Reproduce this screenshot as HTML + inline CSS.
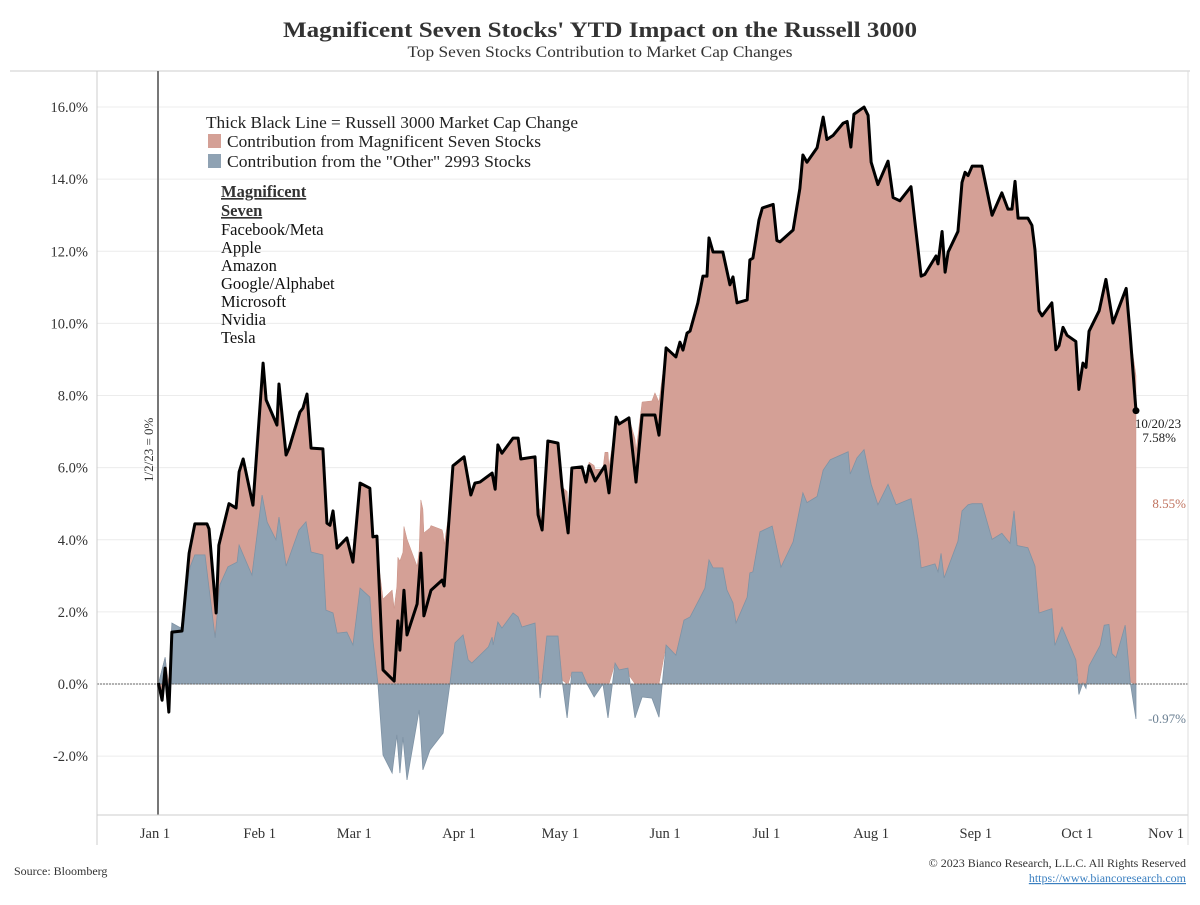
<!DOCTYPE html>
<html><head><meta charset="utf-8"><style>
body{margin:0;background:#fff;font-family:"Liberation Serif",serif;}
svg text{font-family:"Liberation Serif",serif;}
</style></head><body>
<svg id="chart" width="1200" height="900" xmlns="http://www.w3.org/2000/svg">
<text x="600" y="37" text-anchor="middle" font-size="22" font-weight="bold" fill="#333" textLength="634" lengthAdjust="spacingAndGlyphs">Magnificent Seven Stocks' YTD Impact on the Russell 3000</text>
<text x="600" y="57" text-anchor="middle" font-size="16" fill="#333" textLength="385" lengthAdjust="spacingAndGlyphs">Top Seven Stocks Contribution to Market Cap Changes</text>
<line x1="10" y1="71" x2="1190" y2="71" stroke="#ccc"/>
<g id="grid"></g>
<g id="areas"></g>
<line x1="97" y1="684" x2="1188" y2="684" stroke="#666" stroke-dasharray="2,1"/>
<line x1="158" y1="71" x2="158" y2="815" stroke="#777" stroke-width="2"/>
<text transform="translate(153,482) rotate(-90)" font-size="13" text-anchor="start" fill="#333">1/2/23 = 0%</text>
<g id="line"></g>
<line x1="97" y1="71" x2="97" y2="845" stroke="#ccc"/>
<line x1="97" y1="815" x2="1188" y2="815" stroke="#ccc"/>
<line x1="1188" y1="71" x2="1188" y2="845" stroke="#ddd"/>
<g id="yticks"></g><g id="xticks"></g>
<g font-size="16.5" fill="#222">
<text x="206" y="128" textLength="372" lengthAdjust="spacingAndGlyphs">Thick Black Line = Russell 3000 Market Cap Change</text>
<rect x="208" y="134" width="13" height="14" fill="#d4a096"/>
<text x="227" y="147" textLength="314" lengthAdjust="spacingAndGlyphs">Contribution from Magnificent Seven Stocks</text>
<rect x="208" y="154" width="13" height="14" fill="#8fa2b3"/>
<text x="227" y="167" textLength="304" lengthAdjust="spacingAndGlyphs">Contribution from the "Other" 2993 Stocks</text>
</g>
<g font-size="16.5" fill="#111">
<text x="221" y="197" font-weight="bold" text-decoration="underline" fill="#333">Magnificent</text>
<text x="221" y="216" font-weight="bold" text-decoration="underline" fill="#333">Seven</text>
<text x="221" y="235">Facebook/Meta</text>
<text x="221" y="253">Apple</text>
<text x="221" y="271">Amazon</text>
<text x="221" y="289">Google/Alphabet</text>
<text x="221" y="307">Microsoft</text>
<text x="221" y="325">Nvidia</text>
<text x="221" y="343">Tesla</text>
</g>
<text x="1158" y="428" text-anchor="middle" font-size="13" fill="#222">10/20/23</text>
<text x="1176" y="442" text-anchor="end" font-size="13" fill="#222">7.58%</text>
<text x="1186" y="508" text-anchor="end" font-size="13" fill="#c0735f">8.55%</text>
<text x="1186" y="723" text-anchor="end" font-size="13" fill="#6a7f92">-0.97%</text>
<text x="14" y="875" font-size="12" fill="#333">Source: Bloomberg</text>
<text x="1186" y="867" text-anchor="end" font-size="12" fill="#333">© 2023 Bianco Research, L.L.C. All Rights Reserved</text>
<text x="1186" y="882" text-anchor="end" font-size="12" fill="#3a7fc0" text-decoration="underline">https://www.biancoresearch.com</text>
</svg>
<script>
const totalDays=[1,2.1,3,4.1,5,8,10.1,11.8,15.4,16,18.1,18.9,21.9,24,24.9,26.1,29,32,32.9,36.1,36.7,38.8,39.7,42.9,43.8,45,46.2,49.7,50.9,51.8,52.7,53.9,56.8,58.6,60.7,63.6,64.5,65.7,67.5,70.8,71.9,72.5,73.7,74.6,77.6,78.7,79.6,81.7,85,85.6,88.2,91.5,93.5,94.7,96.2,99.8,100.7,101.5,102.7,106,107.5,108.3,112.5,113.4,114.6,116.3,119.3,120.5,122.3,123.4,126.4,127.6,128.5,130.3,133.2,134.4,136.5,137.4,140.3,142.4,144.2,148,149.2,151.3,154.2,155.4,156.3,157.5,158.4,160.7,162.2,163.4,164,165.2,168.1,170.2,171.1,172.3,175.3,176.1,177,178.8,179.8,183,184.1,185,188.9,190.9,191.8,193,196,197.8,198.9,200.7,203.7,204.9,206,206.9,209.9,211.1,212,214,217,218.5,220.5,223.8,225,226.8,227.9,231.2,231.8,233,233.9,234.8,237.7,238.9,239.8,240.7,241.9,244.8,247.8,250.7,252.5,253.7,254.6,255.5,258.4,259.6,260.5,261.7,262.6,265.5,266.7,267.6,268.8,270,272.6,273.5,274.7,275.6,276.5,279.5,281.5,283.6,287.5,288.7,290.4];
const totalVals=[0.03,-0.45,0.44,-0.78,1.44,1.47,3.63,4.44,4.44,4.3,1.97,3.85,5,4.88,5.88,6.24,4.96,8.9,7.88,7.18,8.32,6.35,6.54,7.54,7.65,8.04,6.54,6.52,4.46,4.4,4.8,3.77,4.05,3.38,5.57,5.43,4.08,4.1,0.39,0.08,1.75,0.94,2.6,1.36,2.22,3.63,1.89,2.6,2.88,2.72,6.05,6.3,5.24,5.57,5.6,5.85,5.4,6.63,6.4,6.82,6.82,6.24,6.3,4.69,4.27,6.74,6.68,5.46,4.19,5.99,6.02,5.6,6.05,5.63,6.05,5.3,7.4,7.21,7.38,5.6,7.46,7.46,6.9,9.32,9.07,9.48,9.26,9.73,9.79,10.57,11.31,11.31,12.37,11.98,11.98,11.07,11.29,10.57,10.65,11.76,11.81,12.87,13.2,13.3,12.3,12.26,12.59,13.74,14.67,14.47,14.87,15.72,15.1,15.21,15.55,15.6,14.89,15.8,16,15.77,14.47,13.85,14.5,13.49,13.4,13.79,12.78,11.31,11.36,11.87,11.65,12.55,11.42,11.98,12.55,13.91,14.19,14.1,14.36,14.36,13,13.62,13.17,13.17,13.94,12.92,12.92,12.72,12.04,10.35,10.21,10.57,9.27,9.38,9.89,9.67,9.5,8.17,8.9,8.78,9.78,10.35,11.22,10.01,10.97,9.67,7.58];
const otherDays=[1,3,4.1,5,7.7,10.4,11.8,14.8,17.8,19.2,21.6,24.3,24.9,28.7,31.7,33.2,35.8,36.7,38.8,42.6,44.7,46.2,49.7,50.6,52.7,53.9,56.8,58.6,60.7,63.6,64.5,66,67.5,70.2,71.6,72.5,73.4,74.6,78.2,79.3,81.4,85.3,87.3,88.8,91.2,92.7,93.8,98.7,99.8,100.1,101.5,102.7,106,107.5,108.6,112.5,114,116,119.3,120.5,122,123.4,126.4,127.9,130,132.6,134.1,136.2,137.4,140,142.1,144.2,147.1,149.2,151.3,154.2,156.6,158.4,161.3,162.8,164,165.2,168.1,169.3,171.1,172,175.3,176.1,177,179.1,182.7,185.3,188.9,191.8,193,196,197.8,199.9,205.2,205.8,207.8,209.9,212,214,217,219.4,223.8,225.9,226.8,230.9,231.8,232.7,233.6,237.7,238.9,240.7,241.9,244.8,247.8,250.7,253.1,254.3,255.2,258.4,260.5,261.7,265.5,266.4,268.5,272.6,273.5,274.7,275.6,276.5,279.8,281,282.4,283.3,284.5,287.2,288.7,290.4];
const otherVals=[0,0.74,-0.3,1.69,1.55,3.25,3.58,3.58,1.28,2.75,3.25,3.38,3.85,3.02,5.24,4.49,4,4.63,3.27,4.27,4.5,3.66,3.58,2.05,1.97,1.41,1.44,1.08,2.66,2.41,1.22,0,-1.97,-2.47,-1.41,-2.47,-1.47,-2.66,-0.72,-2.38,-1.83,-1.36,0,1.14,1.36,0.67,0.58,1.03,1.3,1.08,1.72,1.55,1.97,1.86,1.58,1.69,-0.39,1.33,1.33,0.11,-0.94,0.33,0.33,0,-0.36,0,-0.94,0.58,0.39,0.44,-0.94,-0.36,-0.39,-0.92,1.08,0.8,1.77,1.86,2.38,2.66,3.44,3.22,3.22,2.61,2.25,1.69,2.41,3.08,3.11,4.22,4.38,3.24,3.94,5.3,5.03,5.2,5.93,6.22,6.44,5.82,6.27,6.5,5.54,4.97,5.54,4.97,5.14,4.01,3.22,3.33,3.11,3.62,2.94,3.96,4.8,4.97,5,5,4.01,4.18,3.9,4.8,3.84,3.78,3.27,1.97,2.09,1.07,1.58,0.67,-0.29,0.03,-0.12,0.5,1.07,1.63,1.65,0.84,0.73,1.63,0.05,-0.97];
const yTicks=[-2,0,2,4,6,8,10,12,14,16];
const monthLabels=["Jan 1","Feb 1","Mar 1","Apr 1","May 1","Jun 1","Jul 1","Aug 1","Sep 1","Oct 1","Nov 1"];
const monthDays=[0,31,59,90,120,151,181,212,243,273,304];

const NS="http://www.w3.org/2000/svg";
const X=d=>155+d*3.378;
const Y=v=>684-v*36.06;
function mk(tag,attrs,parent){const e=document.createElementNS(NS,tag);for(const k in attrs)e.setAttribute(k,attrs[k]);parent.appendChild(e);return e;}
function interp(ds,vs,d){if(d<=ds[0])return vs[0];for(let i=1;i<ds.length;i++){if(d<=ds[i]){const t=(d-ds[i-1])/(ds[i]-ds[i-1]);return vs[i-1]+t*(vs[i]-vs[i-1]);}}return vs[vs.length-1];}

const gridG=document.getElementById('grid'),ytG=document.getElementById('yticks'),xtG=document.getElementById('xticks');
yTicks.forEach(v=>{
  const g=mk('line',{x1:97,x2:1188,y1:Y(v),y2:Y(v),stroke:'#ececec'},gridG);
  
  
  const t=mk('text',{x:88,y:Y(v)+5,'text-anchor':'end','font-size':14.5,fill:'#333'},ytG);
  t.textContent=v.toFixed(1)+'%';
  
  
});
monthLabels.forEach((m,i)=>{
  const last=i===monthLabels.length-1;
  const t=mk('text',{x:last?1184:X(monthDays[i]),y:838,'text-anchor':last?'end':'middle','font-size':14.5,fill:'#333'},xtG);
  t.textContent=m;
  
  
});

const allDays=[...new Set(totalDays.concat(otherDays))].sort((a,b)=>a-b);
const totI=allDays.map(d=>interp(totalDays,totalVals,d));
const othI=allDays.map(d=>interp(otherDays,otherVals,d));
const areasG=document.getElementById('areas');
const redTop=[],redBot=[];
allDays.forEach((d,i)=>{const o=othI[i],t=totI[i];const base=Math.max(o,0);const topv=o>=0?t:t-o;redTop.push(X(d)+','+Y(topv));redBot.push(X(d)+','+Y(base));});
const red=mk('polygon',{points:redTop.concat(redBot.reverse()).join(' '),fill:'#d4a096',stroke:'#c99083','stroke-width':0.5},areasG);


const bp=otherDays.map((d,i)=>X(d)+','+Y(otherVals[i]));
bp.push(X(otherDays[otherDays.length-1])+','+Y(0));bp.unshift(X(otherDays[0])+','+Y(0));
const blue=mk('polygon',{points:bp.join(' '),fill:'#8fa2b3',stroke:'#7f93a5','stroke-width':0.8},areasG);


const lineG=document.getElementById('line');
const pl=mk('polyline',{points:totalDays.map((d,i)=>X(d)+','+Y(totalVals[i])).join(' '),fill:'none',stroke:'#000','stroke-width':3,'stroke-linejoin':'round'},lineG);


const nLast=totalDays.length-1;
const dot=mk('circle',{cx:X(totalDays[nLast]),cy:Y(totalVals[nLast]),r:3.5,fill:'#000'},lineG);


</script>
</body></html>
